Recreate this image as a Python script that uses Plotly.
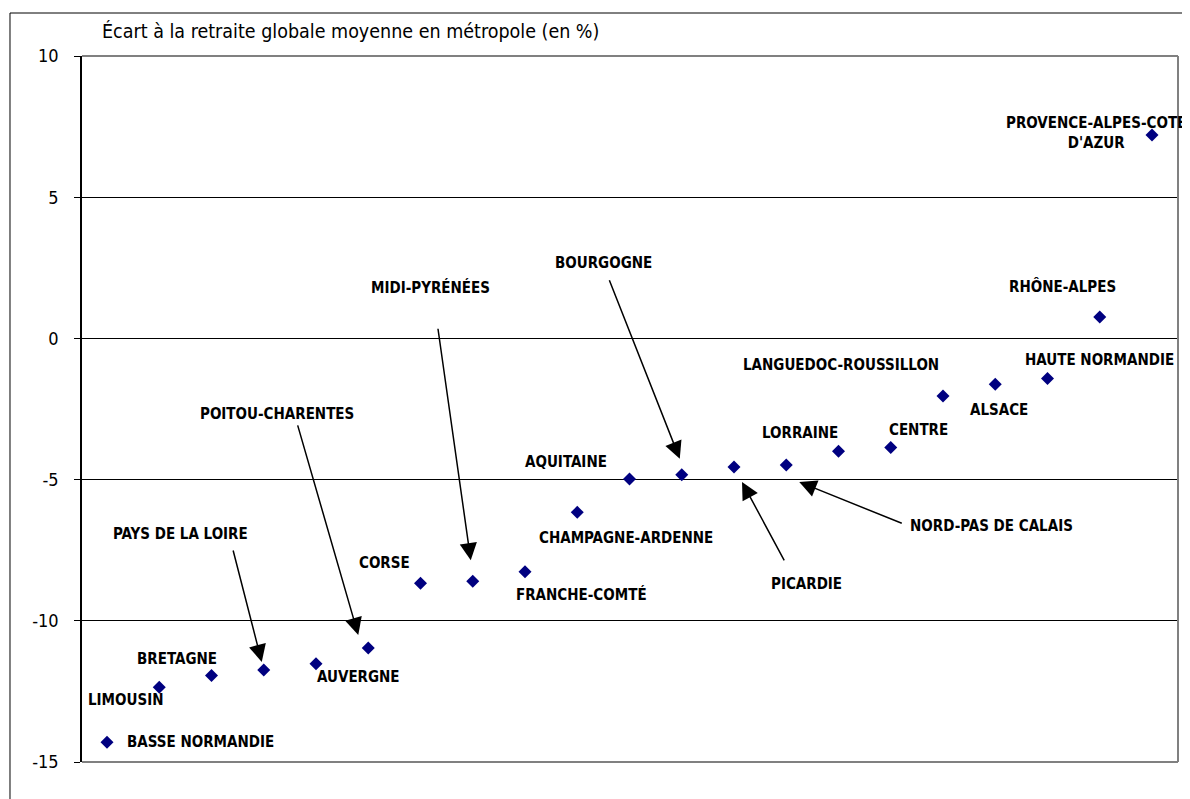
import plotly.graph_objects as go

# ---------------- data ----------------
regions = [
    "BASSE NORMANDIE", "LIMOUSIN", "BRETAGNE", "PAYS DE LA LOIRE", "AUVERGNE",
    "POITOU-CHARENTES", "CORSE", "MIDI-PYRÉNÉES", "FRANCHE-COMTÉ",
    "CHAMPAGNE-ARDENNE", "AQUITAINE", "BOURGOGNE", "PICARDIE",
    "NORD-PAS DE CALAIS", "LORRAINE", "CENTRE", "LANGUEDOC-ROUSSILLON",
    "ALSACE", "HAUTE NORMANDIE", "RHÔNE-ALPES", "PROVENCE-ALPES-COTE<br>D'AZUR",
]
ecart = [
    -14.30, -12.35, -11.94, -11.74, -11.52,
    -10.96, -8.67, -8.60, -8.26,
    -6.16, -4.98, -4.83, -4.55,
    -4.48, -4.00, -3.86, -2.04,
    -1.62, -1.42, 0.76, 7.20,
]
y_tick_values = [-15, -10, -5, 0, 5, 10]
y_tick_labels = ["-15", "-10", "-5", "0", "5", "10"]
y_title = "Écart à la retraite globale moyenne en métropole (en %)"

# ---------------- styling / placement ----------------
FONT = "DejaVu Sans Condensed, Liberation Sans Narrow, sans-serif"
NAVY = "#000080"

# label offset from its point, in screen pixels (dx right, dy down)
label_offsets = {
    0: (18, 0, "left"), 1: (-33, 13, "center"), 2: (-35, -17, "center"),
    3: (-83, -136, "center"), 4: (42, 13, "center"), 5: (-91, -234, "center"),
    6: (-36, -20, "center"), 7: (-42, -294, "center"), 8: (56, 23, "center"),
    9: (49, 26, "center"), 10: (-64, -17, "center"), 11: (-78, -212, "center"),
    12: (72, 117, "center"), 13: (205, 61, "center"), 14: (-39, -18, "center"),
    15: (28, -17, "center"), 16: (-102, -31, "center"), 17: (4, 26, "center"),
    18: (52, -19, "center"), 19: (-37, -30, "center"), 20: (-56, -2, "center"),
}
# arrows: region index -> (tip dx, tip dy, tail ax, tail ay) in pixels
arrow_specs = {
    3: (-2, -8, -29, -113),
    5: (-10, -13, -61, -211),
    7: (-2, -21, -33, -233),
    11: (-2, -16, -71, -180),
    12: (8, 15, 43, 80),
    13: (13, 17, 104, 42),
}

fig = go.Figure()
x_idx = list(range(len(regions)))
fig.add_trace(go.Scatter(
    x=x_idx, y=ecart, mode="markers",
    marker=dict(symbol="diamond", size=10, color=NAVY, line=dict(width=0)),
    showlegend=False, hoverinfo="skip", cliponaxis=False,
))

annotations = []
for i, name in enumerate(regions):
    dx, dy, anchor = label_offsets[i]
    annotations.append(dict(
        x=i, y=ecart[i], xref="x", yref="y", text=name, showarrow=False,
        xshift=dx, yshift=-dy, xanchor=anchor, yanchor="middle", align="center",
        font=dict(family=FONT, size=15, color="black", weight="bold"),
    ))
for i, (tx, ty, ax, ay) in arrow_specs.items():
    annotations.append(dict(
        x=i, y=ecart[i], xref="x", yref="y", text="", showarrow=True,
        xshift=tx, yshift=-ty, ax=ax, ay=ay, axref="pixel", ayref="pixel",
        arrowhead=2, arrowsize=2.3, arrowwidth=1.5, arrowcolor="black", standoff=0,
    ))
annotations.append(dict(
    x=0.0164, y=1.034, xref="paper", yref="paper", text=y_title, showarrow=False,
    xanchor="left", yanchor="middle",
    font=dict(family=FONT, size=19.5, color="black"),
))

GRAY = "#808080"
shapes = [
    # plot-area border (top, right, bottom)
    dict(type="line", xref="paper", yref="paper", x0=0, x1=1, y0=1, y1=1,
         line=dict(color=GRAY, width=2), layer="above"),
    dict(type="line", xref="paper", yref="paper", x0=1, x1=1, y0=0, y1=1,
         line=dict(color=GRAY, width=2), layer="above"),
    dict(type="line", xref="paper", yref="paper", x0=0, x1=1, y0=0, y1=0,
         line=dict(color=GRAY, width=2), layer="above"),
    # outer chart border
    dict(type="line", xref="paper", yref="paper", x0=-0.0657, x1=1.03, y0=1.0609, y1=1.0609,
         line=dict(color="black", width=1)),
    dict(type="line", xref="paper", yref="paper", x0=-0.0657, x1=-0.0657, y0=-0.1, y1=1.0609,
         line=dict(color="black", width=1)),
]

# page body has an 8px default margin, so the figure is sized/offset to compensate
fig.update_layout(
    width=1182, height=791,
    margin=dict(l=74, r=12, t=48, b=37),
    paper_bgcolor="white", plot_bgcolor="white",
    annotations=annotations, shapes=shapes,
    xaxis=dict(range=[-0.4785, 20.497], showgrid=False, zeroline=False,
               showticklabels=False, ticks="", showline=False),
    yaxis=dict(range=[-15, 10], tickvals=y_tick_values, ticktext=y_tick_labels,
               showgrid=True, gridcolor="black", gridwidth=1, zeroline=False,
               showline=True, linecolor="black", linewidth=1.5,
               ticks="outside", ticklen=6, tickcolor="black", tickwidth=1,
               ticklabelstandoff=12,
               tickfont=dict(family=FONT, size=18, color="black")),
)

fig.write_html("out.html")
